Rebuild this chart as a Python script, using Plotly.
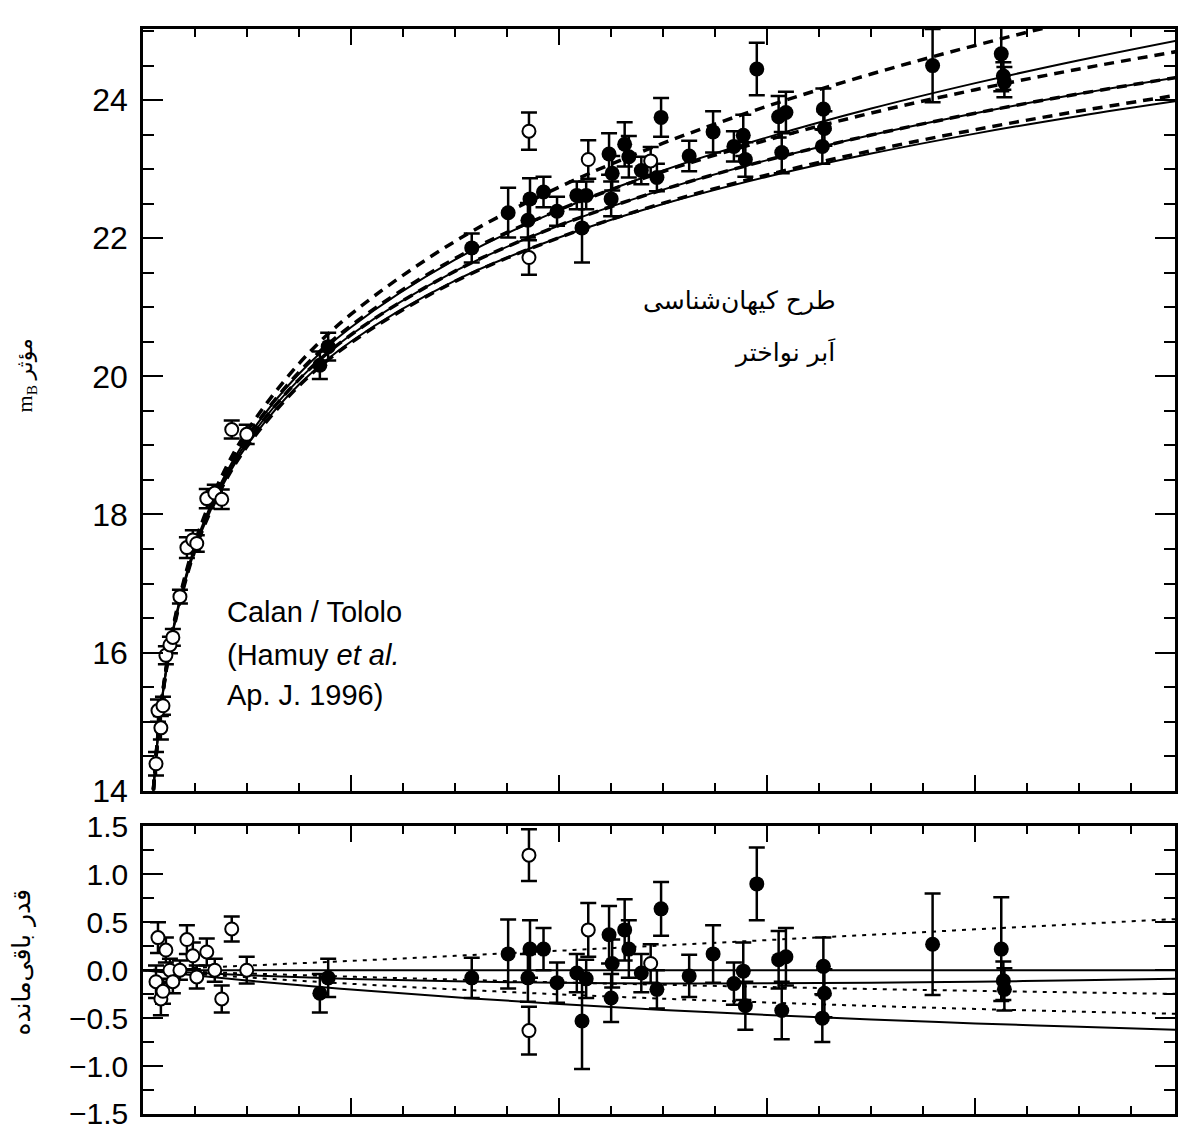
import plotly.graph_objects as go

# ---------------- model curves (top panel): effective m_B vs redshift ----------------
z_curve = [0.008, 0.01, 0.015, 0.02, 0.03, 0.05, 0.075, 0.1, 0.15, 0.2, 0.3, 0.4, 0.5, 0.6, 0.7, 0.8, 0.9, 1.0]
m_om0_ol0 = [13.524, 14.011, 14.897, 15.527, 16.418, 17.549, 18.455, 19.106, 20.038, 20.712, 21.690, 22.406, 22.980, 23.461, 23.878, 24.246, 24.578, 24.881]
m_om1_ol0 = [13.519, 14.005, 14.889, 15.516, 16.402, 17.521, 18.414, 19.051, 19.956, 20.602, 21.524, 22.185, 22.704, 23.131, 23.495, 23.811, 24.092, 24.344]
m_om2_ol0 = [13.515, 14.0, 14.881, 15.505, 16.386, 17.495, 18.375, 19.0, 19.881, 20.505, 21.386, 22.010, 22.495, 22.891, 23.226, 23.515, 23.771, 24.0]
m_om0_ol1 = [13.532, 14.022, 14.913, 15.548, 16.450, 17.601, 18.532, 19.207, 20.185, 20.901, 21.956, 22.741, 23.376, 23.912, 24.378, 24.792, 25.165, 25.505]
m_om05_ol05 = [13.526, 14.014, 14.901, 15.532, 16.426, 17.561, 18.471, 19.125, 20.061, 20.736, 21.708, 22.411, 22.966, 23.423, 23.813, 24.151, 24.451, 24.720]
m_om15_olm05 = [13.513, 13.997, 14.877, 15.500, 16.378, 17.483, 18.361, 18.984, 19.863, 20.488, 21.375, 22.009, 22.508, 22.917, 23.268, 23.572, 23.842, 24.086]

# ---------------- model curves (bottom panel): residuals ----------------
z_res = [0.0, 0.1, 0.2, 0.3, 0.4, 0.5, 0.6, 0.7, 0.8, 0.9, 1.0]
r_zero = [0.0] * 11
r_om0_ol1 = [0, 0.048, 0.097, 0.150, 0.203, 0.258, 0.314, 0.369, 0.426, 0.482, 0.537]
r_om0_ol0 = [0, -0.053, -0.092, -0.116, -0.132, -0.138, -0.137, -0.131, -0.120, -0.105, -0.087]
r_om05_ol05 = [0, -0.034, -0.068, -0.098, -0.127, -0.152, -0.175, -0.196, -0.215, -0.232, -0.248]
r_om075_ol025 = [0, -0.075, -0.142, -0.200, -0.252, -0.297, -0.337, -0.373, -0.404, -0.432, -0.457]
r_om1_ol0 = [0, -0.108, -0.202, -0.282, -0.353, -0.414, -0.467, -0.514, -0.555, -0.591, -0.624]

# ---------------- Calan/Tololo low-redshift supernovae (open circles) ----------------
lowz_z = [0.0125, 0.0144, 0.0172, 0.0192, 0.0220, 0.0259, 0.0287, 0.0355, 0.0422, 0.0479, 0.0517, 0.0613, 0.0690, 0.0757, 0.0853, 0.0997]
lowz_m = [14.39, 15.16, 14.91, 15.23, 15.96, 16.11, 16.22, 16.81, 17.52, 17.63, 17.58, 18.23, 18.31, 18.22, 19.23, 19.16]
lowz_res = [-0.12, 0.34, -0.30, -0.22, 0.21, 0.00, -0.12, 0.00, 0.32, 0.15, -0.07, 0.19, 0.00, -0.30, 0.43, 0.00]
lowz_err = [0.17, 0.16, 0.17, 0.13, 0.13, 0.12, 0.12, 0.10, 0.15, 0.14, 0.12, 0.14, 0.12, 0.14, 0.13, 0.14]

# ---------------- high-redshift supernovae (filled circles) ----------------
hiz_z = [0.170, 0.178, 0.316, 0.351, 0.370, 0.372, 0.385, 0.398, 0.417, 0.422, 0.426, 0.448, 0.451, 0.450,
         0.463, 0.467, 0.479, 0.494, 0.498, 0.525, 0.548, 0.568, 0.577, 0.579, 0.590, 0.611, 0.618, 0.614,
         0.654, 0.655, 0.653, 0.759, 0.825, 0.827, 0.828]
hiz_m = [20.16, 20.43, 21.86, 22.37, 22.26, 22.57, 22.67, 22.39, 22.62, 22.15, 22.62, 23.22, 22.94, 22.57,
         23.36, 23.18, 22.98, 22.88, 23.75, 23.19, 23.54, 23.33, 23.49, 23.14, 24.45, 23.76, 23.82, 23.24,
         23.87, 23.59, 23.33, 24.50, 24.67, 24.35, 24.26]
hiz_res = [-0.24, -0.08, -0.08, 0.17, -0.08, 0.22, 0.22, -0.13, -0.03, -0.53, -0.09, 0.37, 0.07, -0.29,
           0.42, 0.22, -0.03, -0.20, 0.64, -0.06, 0.17, -0.14, -0.01, -0.37, 0.90, 0.11, 0.14, -0.42,
           0.04, -0.24, -0.50, 0.27, 0.22, -0.11, -0.20]
hiz_err = [0.20, 0.20, 0.21, 0.36, 0.25, 0.30, 0.22, 0.21, 0.20, 0.50, 0.20, 0.30, 0.25, 0.25,
           0.32, 0.30, 0.20, 0.20, 0.28, 0.22, 0.30, 0.22, 0.30, 0.25, 0.38, 0.30, 0.30, 0.30,
           0.30, 0.25, 0.25, 0.53, 0.54, 0.20, 0.22]

# ---------------- high-redshift open circles ----------------
hiz_open_z = [0.371, 0.371, 0.428, 0.488]
hiz_open_m = [23.55, 21.72, 23.14, 23.12]
hiz_open_res = [1.20, -0.63, 0.42, 0.07]
hiz_open_err = [0.27, 0.25, 0.28, 0.20]

y_ticks_top = [14, 16, 18, 20, 22, 24]
y_ticks_bot = [-1.5, -1.0, -0.5, 0.0, 0.5, 1.0, 1.5]
y_ticktext_bot = ["\u22121.5", "\u22121.0", "\u22120.5", "0.0", "0.5", "1.0", "1.5"]

fig = go.Figure()

# top-panel curves
for y, dash, w in [(m_om0_ol0, "solid", 2), (m_om1_ol0, "solid", 2), (m_om2_ol0, "solid", 2),
                   (m_om0_ol1, "10px,7px", 3.5), (m_om05_ol05, "10px,7px", 3.5),
                   (m_om1_ol0, "10px,7px", 3.5), (m_om15_olm05, "10px,7px", 3.5)]:
    fig.add_trace(go.Scatter(x=z_curve, y=y, mode="lines", xaxis="x", yaxis="y",
                             line=dict(color="black", width=w, dash=dash, shape="spline"),
                             hoverinfo="skip", showlegend=False))

# bottom-panel curves
for y, dash, w in [(r_zero, "solid", 2), (r_om0_ol0, "solid", 2), (r_om1_ol0, "solid", 2),
                   (r_om0_ol1, "4px,6px", 2), (r_om05_ol05, "4px,6px", 2), (r_om075_ol025, "4px,6px", 2)]:
    fig.add_trace(go.Scatter(x=z_res, y=y, mode="lines", xaxis="x2", yaxis="y2",
                             line=dict(color="black", width=w, dash=dash, shape="spline"),
                             hoverinfo="skip", showlegend=False))

err_style = dict(type="data", thickness=2.5, width=8, color="black")
open_marker = dict(symbol="circle", size=13, color="white", line=dict(color="black", width=2))
filled_marker = dict(symbol="circle", size=15, color="black")

def add_points(x, y, err, marker, xa, ya):
    fig.add_trace(go.Scatter(x=x, y=y, mode="markers", xaxis=xa, yaxis=ya,
                             error_y=dict(array=err, **err_style), marker=marker,
                             cliponaxis=False, showlegend=False))

add_points(hiz_z, hiz_m, hiz_err, filled_marker, "x", "y")
add_points(hiz_open_z, hiz_open_m, hiz_open_err, open_marker, "x", "y")
add_points(lowz_z, lowz_m, lowz_err, open_marker, "x", "y")
add_points(hiz_z, hiz_res, hiz_err, filled_marker, "x2", "y2")
add_points(hiz_open_z, hiz_open_res, hiz_open_err, open_marker, "x2", "y2")
add_points(lowz_z, lowz_res, lowz_err, open_marker, "x2", "y2")

W, H = 1185, 1139
L, R, T, B = 143, 7, 29, 16
pw, ph = W - L - R, H - T - B

def px(xs):
    return (xs - L) / pw

def py(ys):
    return (H - B - ys) / ph

axis_common = dict(showline=True, linewidth=2.5, linecolor="black", mirror="allticks",
                   ticks="inside", tickcolor="black", showgrid=False, zeroline=False)
xaxis_common = dict(axis_common, range=[0, 0.992], tick0=0, dtick=0.2, ticklen=16, tickwidth=2,
                    showticklabels=False,
                    minor=dict(dtick=0.05, tick0=0, ticklen=8, tickwidth=1.5, ticks="inside", tickcolor="black"))

fig.update_layout(
    width=W, height=H,
    margin=dict(l=L, r=R, t=T, b=B),
    paper_bgcolor="white", plot_bgcolor="white",
    font=dict(family="Liberation Sans, Arial, sans-serif", color="black"),
    xaxis=dict(xaxis_common, domain=[0, 1], anchor="y"),
    xaxis2=dict(xaxis_common, domain=[0, 1], anchor="y2"),
    yaxis=dict(axis_common, domain=[py(797), 1], anchor="x", range=[14, 25.03],
               tickvals=y_ticks_top, ticklen=20, tickwidth=2,
               tickfont=dict(size=32, family="Liberation Sans, Arial, sans-serif"),
               ticklabelstandoff=6,
               minor=dict(dtick=0.5, tick0=14, ticklen=11, tickwidth=1.5, ticks="inside", tickcolor="black")),
    yaxis2=dict(axis_common, domain=[0, py(833)], anchor="x2", range=[-1.5, 1.5],
                tickvals=y_ticks_bot, ticktext=y_ticktext_bot, ticklen=20, tickwidth=2,
                tickfont=dict(size=30, family="Liberation Sans, Arial, sans-serif"),
                ticklabelstandoff=6,
                minor=dict(dtick=0.25, tick0=0, ticklen=11, tickwidth=1.5, ticks="inside", tickcolor="black")),
)

annos = [
    dict(text="Calan / Tololo", x=px(225), y=py(617)),
    dict(text="(Hamuy <i>et al.</i>", x=px(225), y=py(660)),
    dict(text="Ap. J. 1996)", x=px(225), y=py(701)),
]
for a in annos:
    fig.add_annotation(xref="paper", yref="paper", xanchor="left", yanchor="middle", showarrow=False,
                       font=dict(size=29, family="Liberation Sans, Arial, sans-serif", color="black"), **a)

fig.add_annotation(text="طرح کیهان‌شناسی", xref="paper", yref="paper", x=px(840), y=py(303),
                   xanchor="right", yanchor="middle", showarrow=False,
                   font=dict(size=25, family="DejaVu Sans, sans-serif", color="black"))
fig.add_annotation(text="اَبر نواختر", xref="paper", yref="paper", x=px(840), y=py(355),
                   xanchor="right", yanchor="middle", showarrow=False,
                   font=dict(size=25, family="DejaVu Sans, sans-serif", color="black"))

fig.add_annotation(text="m<sub>B</sub> مؤثر", xref="paper", yref="paper", x=px(26), y=py(378),
                   xanchor="center", yanchor="middle", textangle=-90, showarrow=False,
                   font=dict(size=22, family="Liberation Serif, DejaVu Sans, serif", color="black"))
fig.add_annotation(text="قدر باقی‌مانده", xref="paper", yref="paper", x=px(21), y=py(970),
                   xanchor="center", yanchor="middle", textangle=-90, showarrow=False,
                   font=dict(size=25, family="DejaVu Sans, sans-serif", color="black"))

# remove the default page margin so the figure sits at the window's top-left corner
fig.write_html(
    "out.html",
    config={"displayModeBar": False},
    post_script="document.body.style.margin='0';document.body.style.overflow='hidden';"
                "document.documentElement.style.overflow='hidden';",
)
